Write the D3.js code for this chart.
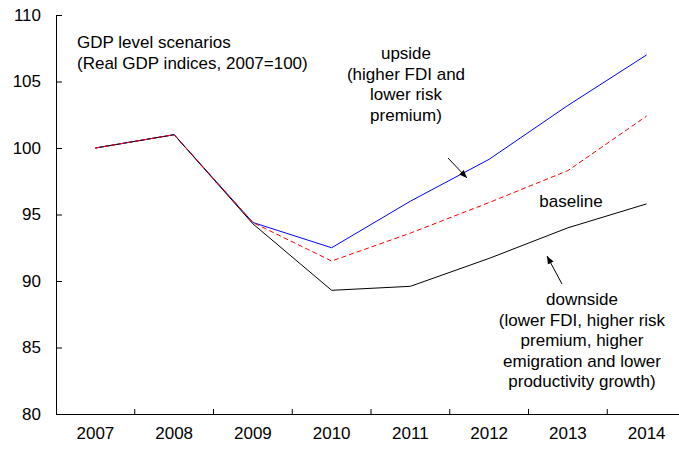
<!DOCTYPE html>
<html><head><meta charset="utf-8">
<script src="https://cdn.jsdelivr.net/npm/d3@7"></script>
<style>body{margin:0;background:#fff}svg{display:block}text{font-family:Arial,"Liberation Sans",sans-serif;fill:#000}</style>
</head><body><svg id="c" width="679" height="450"></svg>
<script>
const years = ["2007","2008","2009","2010","2011","2012","2013","2014"];
const upside = [100, 101, 94.4, 92.5, 96.0, 99.15, 103.2, 107.0];
const baseline = [100, 101, 94.4, 91.5, 93.6, 95.9, 98.3, 102.4];
const downside = [100, 101, 94.3, 89.3, 89.6, 91.7, 94.0, 95.8];
const yTicks = [80, 85, 90, 95, 100, 105, 110];

(function () {
const svg = d3.select("#c");
const pLeft = 56, pRight = 686, pTop = 15, pBottom = 414;
const x = d3.scaleBand().domain(years).range([pLeft, pRight]);
const y = d3.scaleLinear().domain([80, 110]).range([pBottom, pTop]);
const fs = 17;

// axes
const ya = svg.append("g").attr("transform", `translate(${pLeft},0)`)
  .call(d3.axisLeft(y).tickValues(yTicks).tickSizeInner(-6).tickSizeOuter(0).tickPadding(15));
ya.select(".domain").attr("stroke", "#000");
ya.selectAll(".tick line").attr("stroke", "#000");
ya.selectAll("text").style("font-size", fs + "px").attr("font-family", "Arial");

const xa = svg.append("g").attr("transform", `translate(0,${pBottom})`)
  .call(d3.axisBottom(x).tickSize(0).tickPadding(13));
xa.select(".domain").attr("stroke", "#000");
xa.selectAll("text").style("font-size", fs + "px").attr("font-family", "Arial");
// boundary ticks between categories
svg.append("g").selectAll("line").data(years.slice(1)).join("line")
  .attr("x1", d => x(d)).attr("x2", d => x(d))
  .attr("y1", pBottom).attr("y2", pBottom - 5).attr("stroke", "#000");

const line = d3.line().x((d, i) => x(years[i]) + x.bandwidth() / 2).y(d => y(d));
svg.append("path").attr("d", line(upside)).attr("fill", "none").attr("stroke", "#0000ff").attr("stroke-width", 1);
svg.append("path").attr("d", line(downside)).attr("fill", "none").attr("stroke", "#000").attr("stroke-width", 1);
svg.append("path").attr("d", line(baseline)).attr("fill", "none").attr("stroke", "#ff0000").attr("stroke-width", 1).attr("stroke-dasharray", "5,3");

// annotations
function label(lines, cx, y0, anchor) {
  const t = svg.append("text").attr("text-anchor", anchor).style("font-size", fs + "px");
  lines.forEach((s, i) => t.append("tspan").attr("x", cx).attr("y", y0 + i * 20.5).text(s));
}
label(["GDP level scenarios", "(Real GDP indices, 2007=100)"], 77, 48, "start");
label(["upside", "(higher FDI and", "lower risk", "premium)"], 406, 59, "middle");
label(["baseline"], 571, 207, "middle");
label(["downside", "(lower FDI, higher risk", "premium, higher", "emigration and lower", "productivity growth)"], 582, 305, "middle");

svg.append("defs").append("marker").attr("id", "ah").attr("viewBox", "0 0 10 10")
  .attr("refX", 10).attr("refY", 5).attr("markerWidth", 8).attr("markerHeight", 8)
  .attr("orient", "auto").attr("markerUnits", "userSpaceOnUse")
  .append("path").attr("d", "M0,1 L10,5 L0,9 Z").attr("fill", "#000");
svg.append("line").attr("x1", 448).attr("y1", 158).attr("x2", 467).attr("y2", 178)
  .attr("stroke", "#000").attr("marker-end", "url(#ah)");
svg.append("line").attr("x1", 562).attr("y1", 284).attr("x2", 547).attr("y2", 256)
  .attr("stroke", "#000").attr("marker-end", "url(#ah)");
})();
</script></body></html>
